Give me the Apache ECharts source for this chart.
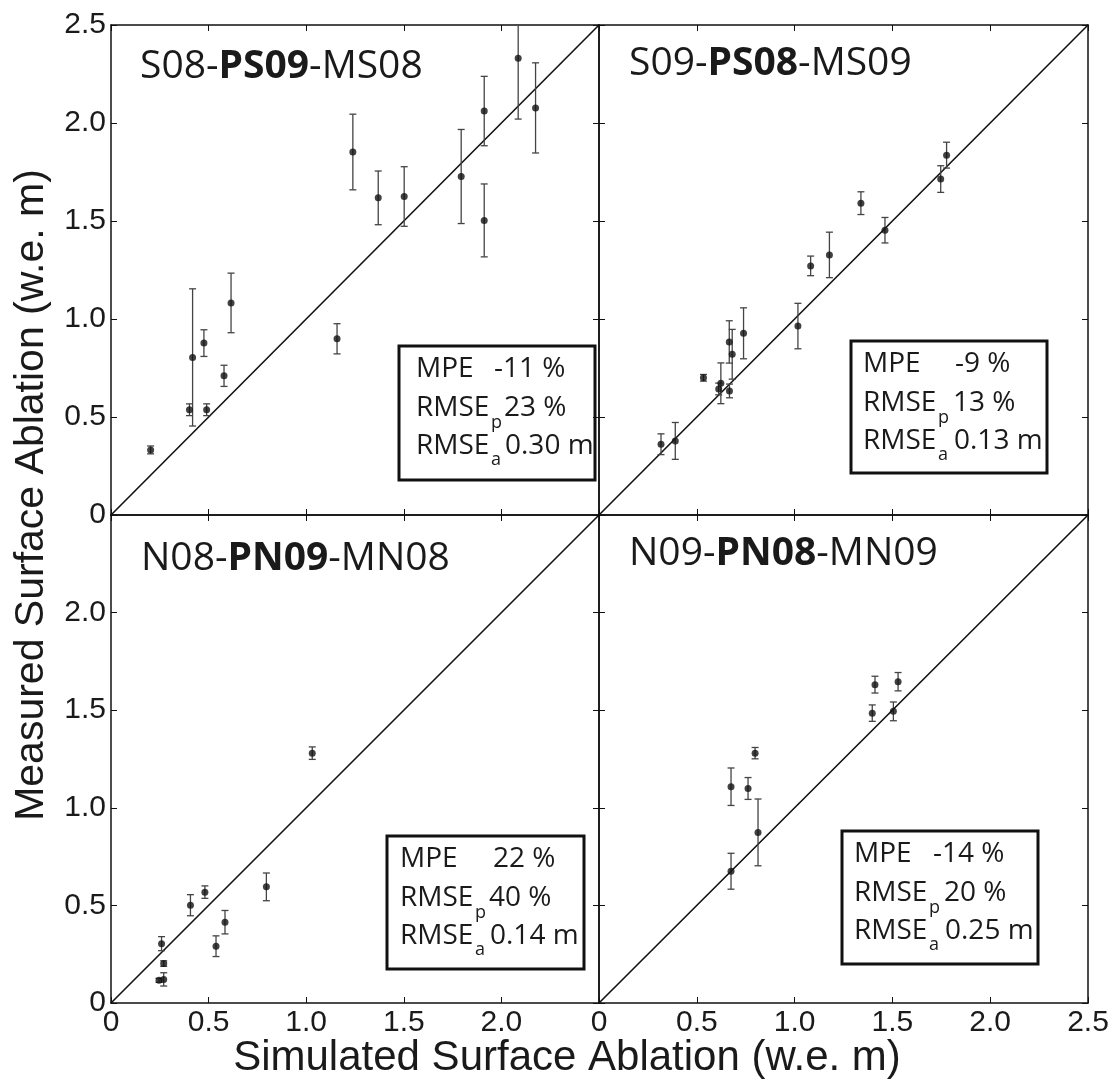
<!DOCTYPE html>
<html><head><meta charset="utf-8">
<script src="https://cdn.jsdelivr.net/npm/echarts@6/dist/echarts.min.js"></script>
<style>html,body{margin:0;padding:0;background:#fff}#c{width:1113px;height:1086px}</style>
</head><body><div id="c"></div>
<script>
// ---------- DATA ----------
const ticks = [0, 0.5, 1.0, 1.5, 2.0, 2.5];
const diagonal = [0, 2.5];

// Panel 1: S08-PS09-MS08
const p1Sim  = [0.203,0.402,0.418,0.476,0.490,0.579,0.615,1.158,1.239,1.369,1.502,1.794,1.912,1.912,2.086,2.175];
const p1Meas = [0.332,0.537,0.804,0.877,0.537,0.710,1.082,0.899,1.852,1.618,1.625,1.727,2.061,1.503,2.330,2.077];
const p1Err  = [0.020,0.030,0.350,0.068,0.030,0.054,0.152,0.077,0.193,0.137,0.152,0.240,0.177,0.186,0.310,0.230];

// Panel 2: S09-PS08-MS09
const p2Sim  = [0.317,0.390,0.534,0.623,0.612,0.667,0.666,0.681,0.739,1.017,1.082,1.178,1.339,1.462,1.747,1.777];
const p2Meas = [0.361,0.378,0.700,0.672,0.643,0.633,0.883,0.820,0.927,0.964,1.271,1.327,1.591,1.453,1.714,1.836];
const p2Err  = [0.053,0.094,0.017,0.104,0.030,0.035,0.108,0.127,0.130,0.116,0.050,0.116,0.058,0.065,0.068,0.066];

// Panel 3: N08-PN09-MN08
const p3Sim  = [0.246,0.270,0.259,0.270,0.407,0.481,0.538,0.584,0.796,1.031];
const p3Meas = [0.116,0.121,0.304,0.202,0.501,0.568,0.291,0.414,0.595,1.280];
const p3Err  = [0.010,0.034,0.036,0.014,0.054,0.032,0.053,0.060,0.071,0.032];

// Panel 4: N09-PN08-MN09
const p4Sim  = [0.675,0.675,0.762,0.798,0.813,1.397,1.411,1.505,1.529];
const p4Meas = [0.675,1.108,1.099,1.280,0.874,1.485,1.631,1.494,1.646];
const p4Err  = [0.092,0.096,0.056,0.029,0.171,0.042,0.043,0.048,0.047];

const panelNames = [['S08-','PS09','-MS08'],['S09-','PS08','-MS09'],['N08-','PN09','-MN08'],['N09-','PN08','-MN09']];
const statMPE   = ['-11 %','-9 %','22 %','-14 %'];
const statRMSEp = ['23 %','13 %','40 %','20 %'];
const statRMSEa = ['0.30 m','0.13 m','0.14 m','0.25 m'];

const xTitle = 'Simulated Surface Ablation (w.e. m)';
const yTitle = 'Measured Surface Ablation (w.e. m)';

// ---------- LAYOUT ----------
const sims = [p1Sim,p2Sim,p3Sim,p4Sim], meas = [p1Meas,p2Meas,p3Meas,p4Meas], errs = [p1Err,p2Err,p3Err,p4Err];
const grids = [
  {left:111, top:25,  width:488, height:490},
  {left:599, top:25,  width:489, height:490},
  {left:111, top:515, width:488, height:488},
  {left:599, top:515, width:489, height:488}
];
const showXLabels = [false,false,true,true];
const showYLabels = [true,false,true,false];
const hideMaxX = [false,false,true,false];
const hideMaxY = [false,false,true,false];
const titlePos = [[140,64],[629,61],[141,556],[629,551]];
const boxPos = [[399,346,196,134],[851,341,196,132],[387,836,197,133],[842,831,196,133]];
const textLeft = [17,12,13,12];
const mpeValLeft = [95,104,106,91];
const valLeft = [105,102,102,102];

const AX_FONT = '"Liberation Sans", Arial, Helvetica, sans-serif';
const TXT_FONT = '"Open Sans", "Noto Sans", sans-serif';
const fmt = v => v === 0 ? '0' : v.toFixed(1);
const MAXV = ticks[ticks.length-1];

const xAxes = [], yAxes = [], series = [], graphic = [];
grids.forEach((g, i) => {
  const base = {min: ticks[0], max: MAXV, interval: 0.5, gridIndex: i, type: 'value',
    splitLine: {show: false},
    axisLine: {show: true, onZero: false, lineStyle: {color: '#111', width: 1.5}},
    axisTick: {show: true, inside: true, length: 6, lineStyle: {color: '#111', width: 1}}};
  xAxes.push(Object.assign({}, base, {position: 'bottom',
    axisLabel: {show: showXLabels[i], margin: 5, fontFamily: AX_FONT, fontSize: 30, color: '#1a1a1a',
      formatter: v => (hideMaxX[i] && v === MAXV) ? '' : fmt(v)}}));
  xAxes.push(Object.assign({}, base, {position: 'top', axisLabel: {show: false}}));
  yAxes.push(Object.assign({}, base, {position: 'left',
    axisLabel: {show: showYLabels[i], margin: 5, fontFamily: AX_FONT, fontSize: 30, color: '#1a1a1a',
      formatter: v => (hideMaxY[i] && v === MAXV) ? '' : fmt(v)}}));
  yAxes.push(Object.assign({}, base, {position: 'right', axisLabel: {show: false}}));

  series.push({type: 'line', xAxisIndex: 2*i, yAxisIndex: 2*i, data: [[diagonal[0],diagonal[0]],[diagonal[1],diagonal[1]]],
    symbol: 'none', lineStyle: {color: '#111', width: 1.6}, silent: true, z: 2});
  const data = sims[i].map((x, k) => [x, meas[i][k], errs[i][k]]);
  series.push({type: 'custom', xAxisIndex: 2*i, yAxisIndex: 2*i, data: data, encode: {x: 0, y: 1}, z: 3,
    renderItem: (params, api) => {
      const x = api.value(0), y = api.value(1), e = api.value(2);
      const hiV = Math.min(y + e, MAXV), loV = Math.max(y - e, 0);
      const p1 = api.coord([x, hiV]), p2 = api.coord([x, loV]);
      const w = 3.5, st = {stroke: '#444', lineWidth: 1.3};
      const ch = [{type: 'line', shape: {x1: p1[0], y1: p1[1], x2: p2[0], y2: p2[1]}, style: st}];
      if (y + e < MAXV) ch.push({type: 'line', shape: {x1: p1[0]-w, y1: p1[1], x2: p1[0]+w, y2: p1[1]}, style: st});
      ch.push({type: 'line', shape: {x1: p2[0]-w, y1: p2[1], x2: p2[0]+w, y2: p2[1]}, style: st});
      return {type: 'group', children: ch};
    }});
  series.push({type: 'scatter', xAxisIndex: 2*i, yAxisIndex: 2*i, data: data.map(d => [d[0], d[1]]),
    symbol: 'circle', symbolSize: 7, itemStyle: {color: '#111'}, z: 4});

  // panel title
  graphic.push({type: 'text', left: titlePos[i][0], top: titlePos[i][1] - 17, z: 10,
    style: {text: '{n|' + panelNames[i][0] + '}{b|' + panelNames[i][1] + '}{n|' + panelNames[i][2] + '}',
      rich: {n: {fontFamily: TXT_FONT, fontSize: 39, fill: '#1a1a1a', lineHeight: 52},
             b: {fontFamily: TXT_FONT, fontSize: 39, fontWeight: 'bold', fill: '#1a1a1a', lineHeight: 52}}}});
  // stats box
  const [bx, by, bw, bh] = boxPos[i];
  const tl = textLeft[i];
  const ts = (t, x, y, size) => ({type: 'text', x: x, y: y,
    style: {text: t, fontFamily: TXT_FONT, fontSize: size || 28, fill: '#1a1a1a', verticalAlign: 'middle', align: 'left'}});
  graphic.push({type: 'group', x: bx, y: by, z: 10, children: [
    {type: 'rect', shape: {x: 0, y: 0, width: bw, height: bh}, style: {fill: '#fff', stroke: '#111', lineWidth: 3}},
    ts('MPE', tl, 23),
    ts(statMPE[i], mpeValLeft[i], 23),
    ts('RMSE', tl, 62),
    ts('p', tl + 75, 77, 18),
    ts(statRMSEp[i], valLeft[i], 62),
    ts('RMSE', tl, 100),
    ts('a', tl + 75, 114, 18),
    ts(statRMSEa[i], valLeft[i]+1, 100)
  ]});
});

graphic.push({type: 'text', x: 567, y: 1058, z: 10,
  style: {text: xTitle, fontFamily: AX_FONT, fontSize: 42, fill: '#1a1a1a', align: 'center', verticalAlign: 'middle'}});
graphic.push({type: 'text', x: 32, y: 495, rotation: Math.PI/2, z: 10,
  style: {text: yTitle, fontFamily: AX_FONT, fontSize: 41, fill: '#1a1a1a', align: 'center', verticalAlign: 'middle'}});

const chart = echarts.init(document.getElementById('c'), null, {renderer: 'canvas'});
chart.setOption({
  animation: false,
  backgroundColor: '#fff',
  grid: grids.map(g => Object.assign({containLabel: false}, g)),
  xAxis: xAxes, yAxis: yAxes, series: series, graphic: graphic
});
</script></body></html>
